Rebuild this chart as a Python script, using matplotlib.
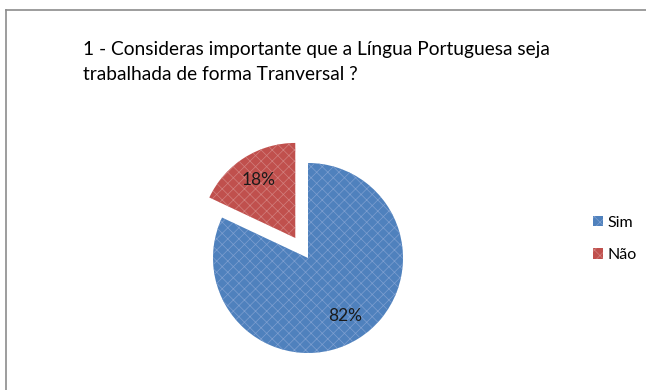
import matplotlib
matplotlib.use("Agg")
import matplotlib.pyplot as plt
from matplotlib.patches import Patch
from matplotlib.lines import Line2D

plt.rcParams['font.family'] = ['Lato', 'DejaVu Sans']
plt.rcParams['hatch.linewidth'] = 0.5

title = "1 - Consideras importante que a Língua Portuguesa seja\ntrabalhada de forma Tranversal ?"
categories = ["Sim", "Não"]
values = [82, 18]
colors = ["#4F81BD", "#C0504D"]
hatch_colors = ["#7E9FD0", "#D2807E"]
explode = [0, 0.25]

W, H = 646, 390
fig = plt.figure(figsize=(W / 100, H / 100), dpi=100)

# chart frame
fig.add_artist(Line2D([6 / W, 6 / W], [0, 1 - 10 / H], color="#8C8C8C", lw=1.2, transform=fig.transFigure))
fig.add_artist(Line2D([6 / W, 1], [1 - 10 / H, 1 - 10 / H], color="#8C8C8C", lw=1.2, transform=fig.transFigure))

# pie axes: center (308, 258) px from top-left, radius 95 px
R = 95
cx, cy = 308, H - 258
span = 1.5
side = 2 * span * R
ax = fig.add_axes([(cx - side / 2) / W, (cy - side / 2) / H, side / W, side / H])

wedges, texts, autotexts = ax.pie(
    values, colors=colors, explode=explode, startangle=90, counterclock=False,
    autopct="%d%%", pctdistance=0.72, radius=1.0,
    wedgeprops=dict(linewidth=0),
    textprops=dict(fontsize=12.5, color="#1a1a1a"),
)
ax.set_xlim(-span, span)
ax.set_ylim(-span, span)
ax.set_aspect("equal")
ax.axis("off")
for w, hc in zip(wedges, hatch_colors):
    w.set_hatch("xxx")
    w.set_edgecolor(hc)
    w.set_linewidth(0)
    w.set_clip_on(False)

fig.text(83 / W, 1 - 41 / H, title, fontsize=13.8, va="top", ha="left",
         linespacing=1.55, color="#000000")

handles = [Patch(facecolor=c, edgecolor=hc, hatch="xxx", linewidth=0) for c, hc in zip(colors, hatch_colors)]
fig.legend(handles, categories, loc="center left", bbox_to_anchor=(593 / W, 1 - 239 / H),
           frameon=False, fontsize=11.5, handlelength=0.6, handleheight=0.6,
           handletextpad=0.3, labelspacing=1.15, borderpad=0, borderaxespad=0)

fig.savefig("out.png", dpi=100)
